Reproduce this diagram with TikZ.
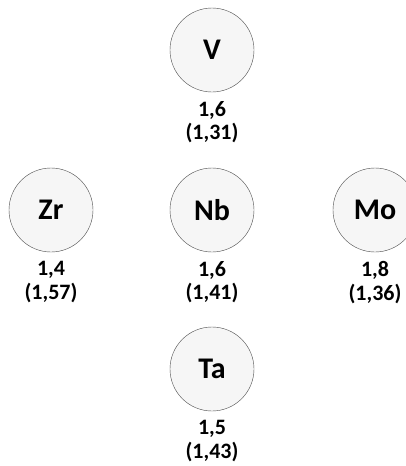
\documentclass[tikz,border=0pt]{standalone}
\usepackage{fontspec}
\setmainfont{Carlito}
\usetikzlibrary{positioning}

\begin{document}
\begin{tikzpicture}[x=1pt,y=-1pt,
        elem/.style={circle,draw=black!70,thin,fill=gray!7,minimum size=84pt,
            inner sep=0pt,font=\fontsize{30}{30}\selectfont\bfseries},
        val/.style={align=center,inner sep=0pt,
            font=\fontsize{22}{23.5}\selectfont\bfseries}]
        \useasboundingbox (0,0) rectangle (406,466);
        \clip (0,0) rectangle (406,466);
        \node[elem] (v) at (212,50) {V};
        \node[elem] (zr) at (51,210) {Zr};
        \node[elem] (nb) at (212,210) {Nb};
        \node[elem] (mo) at (375,210) {Mo};
        \node[elem] (ta) at (212,369) {Ta};
        \node[val,below=9pt of v] (vv) {1,6\\(1,31)};
        \node[val,below=9pt of zr] (zrv) {1,4\\(1,57)};
        \node[val,below=9pt of nb] (nbv) {1,6\\(1,41)};
        \node[val,below=9pt of mo] (mov) {1,8\\(1,36)};
        \node[val,below=9pt of ta] (tav) {1,5\\(1,43)};
    \end{tikzpicture}
\end{document}
